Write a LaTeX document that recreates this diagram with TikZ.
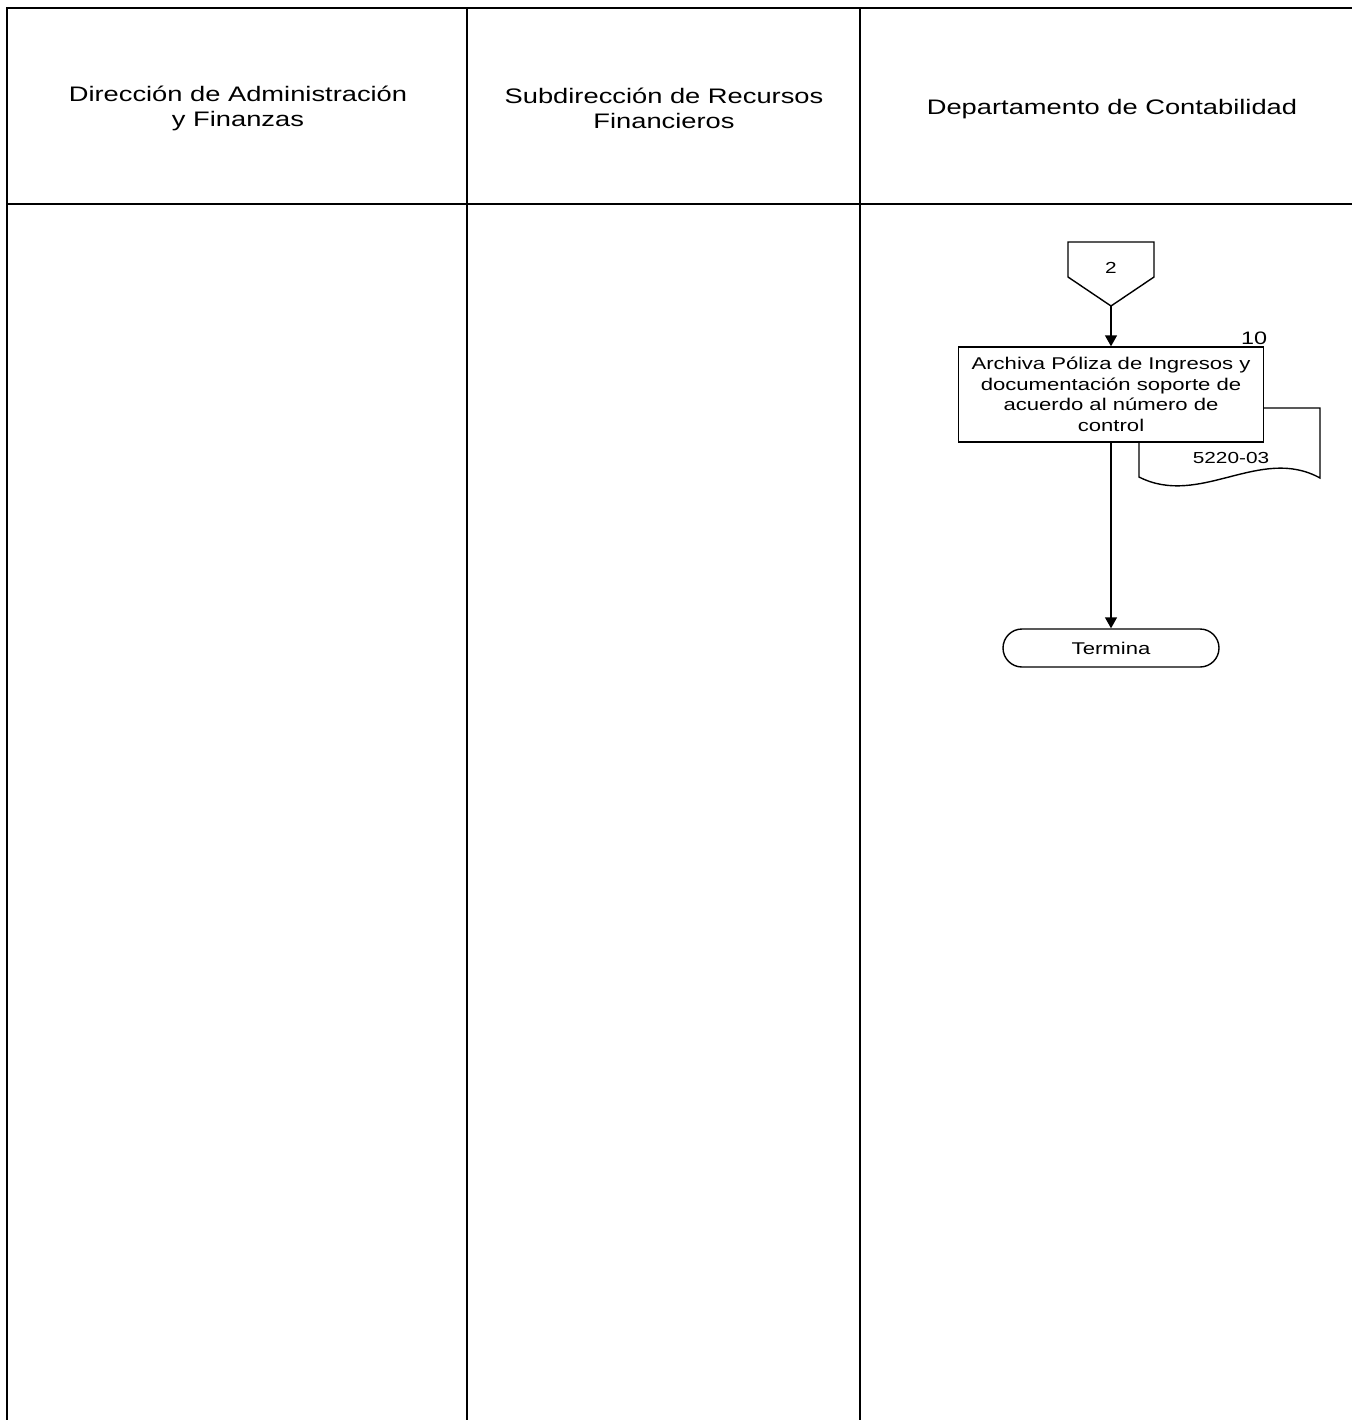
\documentclass[tikz,border=0pt]{standalone}
\usepackage{fontspec}
\setmainfont[FakeStretch=1.3]{Liberation Sans}
\usetikzlibrary{arrows.meta,positioning}

\tikzset{
  lane/.style={line width=1.6pt},
  flow/.style={line width=1.4pt,-{Triangle[width=12pt,length=11pt]}},
  lanetitle/.style={align=center,font=\fontsize{21}{25}\selectfont},
  activity/.style={draw,line width=1.4pt,fill=white,minimum width=305pt,
    minimum height=95pt,inner sep=0pt,align=center,
    font=\fontsize{17}{20.5}\selectfont},
  terminal/.style={draw,line width=1.4pt,fill=white,rounded corners=19pt,
    minimum width=216pt,minimum height=38pt,inner sep=0pt,
    font=\fontsize{17}{20}\selectfont}
}

\begin{document}
\begin{tikzpicture}[x=1pt,y=-1pt]
    \useasboundingbox (0,0) rectangle (1352,1420);

    % Lanes
    \draw [lane] (7,1420) -- (7,8) -- (1352,8);
    \draw [lane] (7,204) -- (1352,204);
    \draw [lane] (467,8) -- (467,1420);
    \draw [lane] (860,8) -- (860,1420);

    % Lane titles
    \node [lanetitle] (dir) at (238,108) {Dirección de Administración\\y Finanzas};
    \node [lanetitle] (sub) at (664,108) {Subdirección de Recursos\\Financieros};
    \node [lanetitle] (dep) at (1112,109) {Departamento de Contabilidad};

    % Off-page connector
    \draw [line width=1.4pt] (1068,242) -- (1154,242) -- (1154,277)
        -- (1111,306) -- (1068,277) -- cycle;
    \node [font=\fontsize{16}{18}\selectfont] (con) at (1111,268) {2};
    \coordinate (contip) at (1111,306);

    % Document behind the activity
    \draw [line width=1.4pt,fill=white] (1139,408) -- (1320,408) -- (1320,478)
        .. controls (1260,445) and (1200,508) .. (1139,477) -- cycle;
    \node [font=\fontsize{16}{18}\selectfont] (form) at (1231,458) {5220-03};

    % Activity 10
    \node [activity] (act) at (1111,394.5)
        {Archiva Póliza de Ingresos y\\documentación soporte de\\acuerdo al número de\\control};
    \node [font=\fontsize{18}{20}\selectfont] (num) at (1254,338) {10};

    % End
    \node [terminal] (end) at (1111,648) {Termina};

    % Flow
    \draw [flow] (contip) -- (act);
    \draw [flow] (act) -- (end);
\end{tikzpicture}
\end{document}
